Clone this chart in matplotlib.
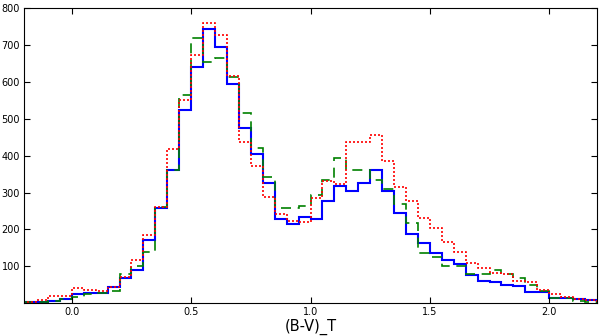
import numpy as np
import matplotlib
matplotlib.use("Agg")
import matplotlib.pyplot as plt

# bin grid: 0.05 wide, from -0.2 to 2.2
bin_lo, bin_w, n_bins = -0.2, 0.05, 48
edges = bin_lo + bin_w * np.arange(n_bins + 1)

# counts per bin
blue = [2, 3, 5, 12, 24, 26, 28, 44, 68, 90, 170, 257, 360, 525, 642, 743,
        695, 594, 476, 405, 325, 229, 216, 235, 229, 276, 318, 305, 327, 361,
        305, 245, 188, 162, 137, 117, 105, 75, 60, 57, 48, 45, 30, 30, 15, 14,
        12, 8]
green = [2, 3, 5, 10, 16, 24, 28, 33, 80, 101, 140, 260, 360, 565, 720, 655,
         664, 614, 515, 420, 342, 259, 259, 263, 294, 334, 395, 360, 361, 335,
         311, 268, 217, 137, 125, 101, 102, 79, 80, 90, 80, 68, 48, 33, 14,
         13, 6, 4]
red = [3, 7, 19, 19, 40, 35, 32, 43, 70, 118, 186, 261, 418, 550, 673, 761,
       729, 616, 438, 373, 289, 243, 223, 221, 285, 331, 324, 437, 437, 456,
       386, 316, 277, 230, 203, 167, 139, 108, 95, 82, 78, 60, 56, 36, 25, 16,
       12, 8]

fig, ax = plt.subplots(figsize=(6.0, 3.36), dpi=100)
fig.subplots_adjust(left=0.04, right=0.995, top=0.975, bottom=0.098)

ax.stairs(blue, edges, color="b", linewidth=1.5)
ax.stairs(green, edges, color="g", linewidth=1.2, linestyle=(0, (6, 4)))
ax.stairs(red, edges, color="r", linewidth=1.2, linestyle=(0, (1.2, 1.2)))

ax.set_xlim(-0.2, 2.2)
ax.set_ylim(0, 800)
ax.set_xticks([0.0, 0.5, 1.0, 1.5, 2.0])
ax.set_xticklabels(["0.0", "0.5", "1.0", "1.5", "2.0"])
ax.set_yticks(range(100, 801, 100))
ax.tick_params(direction="in", top=True, right=True, labelsize=7, length=4,
               pad=3)
ax.set_xlabel("(B-V)_T", fontsize=10.5, labelpad=1)

plt.savefig("out.png", dpi=100)
plt.close()
